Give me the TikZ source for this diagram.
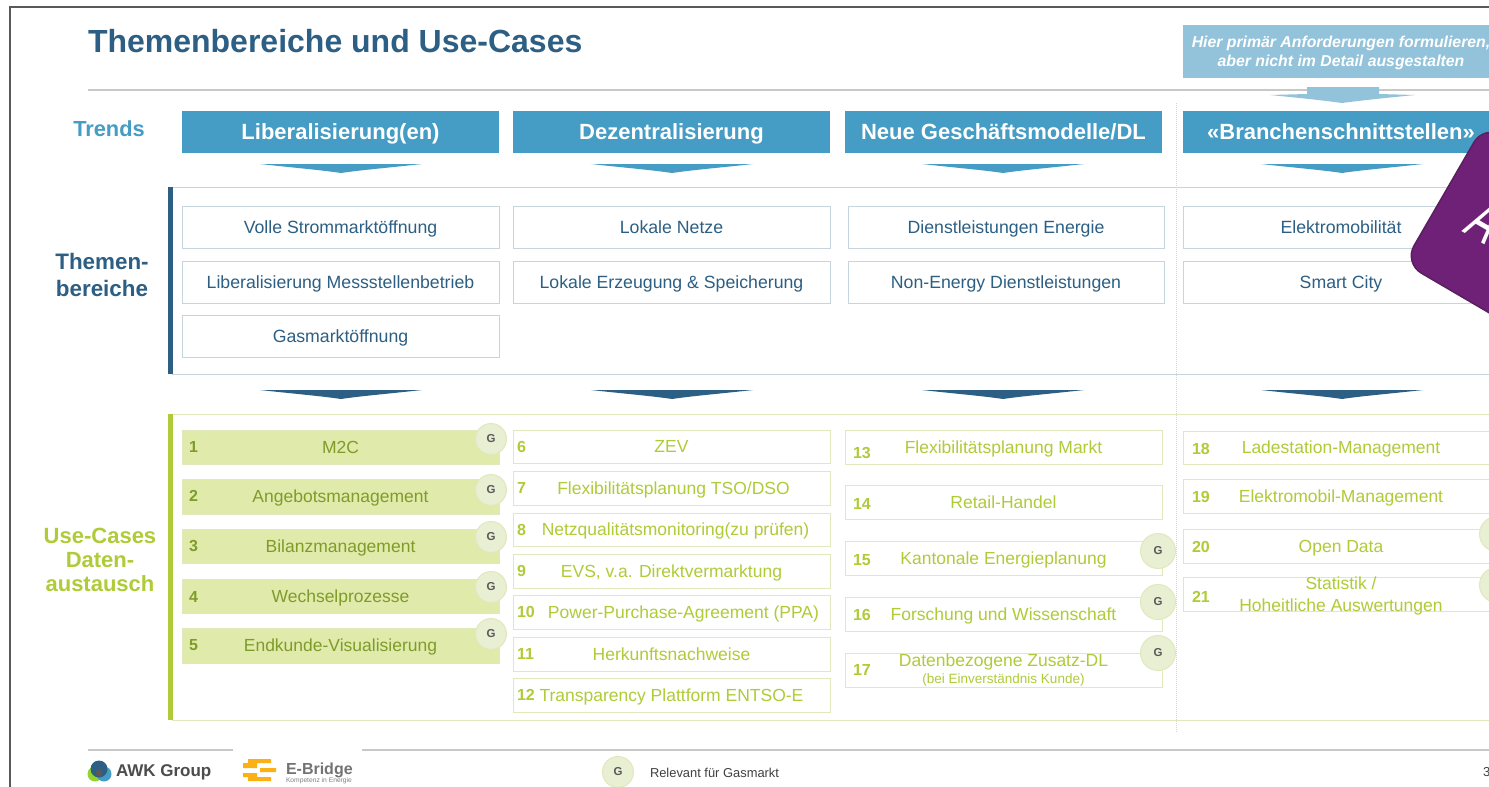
\documentclass[tikz,border=0pt]{standalone}
\usepackage{fontspec}
\setmainfont{Liberation Sans}
\definecolor{cdark}{HTML}{2C5F83}
\definecolor{cblue}{HTML}{459CC4}
\definecolor{cpale}{HTML}{92C3DB}
\definecolor{cthem}{HTML}{C6D5DE}
\definecolor{cgreen}{HTML}{AFCB37}
\definecolor{cfill}{HTML}{E0EAAB}
\definecolor{cline}{HTML}{E0E9BD}
\definecolor{cgtxt}{HTML}{7F9C2A}
\definecolor{ccirc}{HTML}{E9EFD2}
\definecolor{crule}{HTML}{C8C8C8}
\definecolor{cpurple}{HTML}{6F2077}
\definecolor{cpurpd}{HTML}{5A1F5F}
\definecolor{corange}{HTML}{FBB116}
\newcommand\fs[1]{\fontsize{#1}{#1}\selectfont}
\tikzset{
 x=1pt,y=-1pt,inner sep=0pt,outer sep=0pt,
 trend/.style={fill=cblue,text=white,font=\fs{22}\bfseries,text height=15.8pt,text depth=-3.6pt},
 thembox/.style={draw=cthem,line width=1pt,fill=white,text=cdark,font=\fs{17.7},text height=12.7pt,text depth=0pt},
 ucmulti/.style={draw=cline,line width=1pt,fill=white,text=cgreen,font=\fs{17.5},align=center},
 ucbox/.style={ucmulti,text height=12.5pt,text depth=0pt},
 ucfill/.style={draw=cline,line width=.6pt,fill=cfill,text=cgtxt,font=\fs{17.5},text height=12.5pt,text depth=0pt},
 ucnum/.style={font=\fs{16}\bfseries,anchor=west},
 gmark/.style={circle,draw=cline,line width=1pt,fill=ccirc,text=black!65,font=\fs{11.5}\bfseries},
 seclabel/.style={font=\fs{22}\bfseries,align=center},
}
\newcommand\bx[7][]{\node[#2,#1,minimum width={(#5-#3)*1pt},minimum height={(#6-#4)*1pt}] (#7) at ({(#3+#5)/2},{(#4+#6)/2})}
\newcommand\dnarrow[4]{\fill[#1] (#2-81,#3) -- (#2+81,#3) .. controls (#2+45,#3+4) and (#2+20,#3+6) .. (#2,#4) .. controls (#2-20,#3+6) and (#2-45,#3+4) .. (#2-81,#3) -- cycle;}
\newcommand\gm[4]{\node[gmark,minimum size=#3*2pt] (#4) at (#1,#2) {G};}
\begin{document}
\begin{tikzpicture}
\useasboundingbox (0,0) rectangle (1489,787);
\clip (0,0) rectangle (1489,787);
\fill[white] (0,0) rectangle (1489,787);
% frame
\draw[black!65,line width=2pt] (10,790) -- (10,6.5) -- (1495,6.5);
% title
\node[anchor=base west,text=cdark,font=\fs{32}\bfseries] (title) at (88,52.5) {Themenbereiche und Use-Cases};
\draw[crule,line width=1.2pt] (88,90) -- (1489,90);
% hint
\bx[text depth=0pt]{fill=cpale,text=white,font=\fs{15.8}\bfseries\itshape,align=center}{1183}{25}{1499}{78}{hint}{Hier primär Anforderungen formulieren,\\[3pt]aber nicht im Detail ausgestalten};
\fill[cpale] (1307,87) -- (1379,87) -- (1379,94) -- (1415,95) .. controls (1385,98) and (1365,100) .. (1342,103) .. controls (1320,100) and (1300,98) .. (1270,95) -- (1307,94) -- cycle;
% vertical divider
\draw[cblue!35,line width=1pt,densely dotted] (1176,103) -- (1176,733);
% trends
\node[text=cblue,font=\fs{21.8}\bfseries] (ltrend) at (109,129) {Trends};
\bx{trend}{182}{111}{499}{153}{t1}{Liberalisierung(en)};
\bx{trend}{513}{111}{830}{153}{t2}{Dezentralisierung};
\bx{trend}{845}{111}{1162}{153}{t3}{Neue Geschäftsmodelle/DL};
\bx{trend}{1183}{111}{1499}{153}{t4}{«Branchenschnittstellen»};
\dnarrow{cblue}{341}{164}{173}
\dnarrow{cblue}{672}{164}{173}
\dnarrow{cblue}{1003}{164}{173}
\dnarrow{cblue}{1342}{164}{173}
% Themenbereiche section
\draw[cthem,line width=1pt] (172,187) -- (1495,187) (172,374) -- (1495,374);
\fill[cdark] (168,187) rectangle (172.5,374);
\node[seclabel,text=cdark,font=\fs{22.4}\bfseries] (lthem) at (102,275) {Themen-\\[5pt]bereiche};
\bx{thembox}{182}{206}{499}{248}{a1}{Volle Strommarktöffnung};
\bx{thembox}{182}{261}{499}{303}{a2}{Liberalisierung Messstellenbetrieb};
\bx{thembox}{182}{315}{499}{357}{a3}{Gasmarktöffnung};
\bx{thembox}{513}{206}{830}{248}{b1}{Lokale Netze};
\bx{thembox}{513}{261}{830}{303}{b2}{Lokale Erzeugung \& Speicherung};
\bx{thembox}{848}{206}{1164}{248}{c1}{Dienstleistungen Energie};
\bx{thembox}{848}{261}{1164}{303}{c2}{Non-Energy Dienstleistungen};
\bx{thembox}{1183}{206}{1499}{248}{d1}{Elektromobilität};
\bx{thembox}{1183}{261}{1499}{303}{d2}{Smart City};
\dnarrow{cdark}{341}{390}{399}
\dnarrow{cdark}{672}{390}{399}
\dnarrow{cdark}{1003}{390}{399}
\dnarrow{cdark}{1342}{390}{399}
% Use-cases section
\draw[cline,line width=1pt] (172,414) -- (1495,414) (172,720) -- (1495,720);
\fill[cgreen] (168,414) rectangle (173,720);
\node[seclabel,text=cgreen] (luc) at (100,560) {Use-Cases\\[2pt]Daten-\\[2pt]austausch};
% column 1
\bx{ucfill}{182}{430}{499}{464}{u1}{M2C};
\bx{ucfill}{182}{479}{499}{514}{u2}{Angebotsmanagement};
\bx{ucfill}{182}{529}{499}{563}{u3}{Bilanzmanagement};
\bx{ucfill}{182}{579}{499}{613}{u4}{Wechselprozesse};
\bx{ucfill}{182}{628}{499}{663}{u5}{Endkunde-Visualisierung};
\node[ucnum,text=cgtxt] (n1) at (189,447) {1};
\node[ucnum,text=cgtxt] (n2) at (189,496) {2};
\node[ucnum,text=cgtxt] (n3) at (189,546) {3};
\node[ucnum,text=cgtxt] (n4) at (189,597) {4};
\node[ucnum,text=cgtxt] (n5) at (189,645) {5};
\gm{491}{439}{15.5}{g1}
\gm{491}{490}{15.5}{g2}
\gm{491}{537}{15.5}{g3}
\gm{491}{587}{15.5}{g4}
\gm{491}{634}{15.5}{g5}
% column 2
\bx{ucbox}{513}{430}{830}{463}{u6}{ZEV};
\bx{ucbox}{513}{471}{830}{505}{u7}{\hspace{4pt}Flexibilitätsplanung TSO/DSO};
\bx{ucbox}{513}{513}{830}{546}{u8}{\hspace{8pt}Netzqualitätsmonitoring(zu prüfen)};
\bx{ucbox}{513}{554}{830}{588}{u9}{EVS, v.a. Direktvermarktung};
\bx{ucbox}{513}{595}{830}{629}{u10}{\hspace{24pt}Power-Purchase-Agreement (PPA)};
\bx{ucbox}{513}{637}{830}{671}{u11}{Herkunftsnachweise};
\bx{ucbox}{513}{678}{830}{712}{u12}{Transparency Plattform ENTSO-E};
\node[ucnum,text=cgreen] (n6) at (517,447) {6};
\node[ucnum,text=cgreen] (n7) at (517,488) {7};
\node[ucnum,text=cgreen] (n8) at (517,530) {8};
\node[ucnum,text=cgreen] (n9) at (517,571) {9};
\node[ucnum,text=cgreen] (n10) at (517,612) {10};
\node[ucnum,text=cgreen] (n11) at (517,654) {11};
\node[ucnum,text=cgreen] (n12) at (517,695) {12};
% column 3
\bx{ucbox}{845}{430}{1162}{464}{u13}{Flexibilitätsplanung Markt};
\bx{ucbox}{845}{485}{1162}{519}{u14}{Retail-Handel};
\bx{ucbox}{845}{541}{1162}{575}{u15}{Kantonale Energieplanung};
\bx{ucbox}{845}{597}{1162}{631}{u16}{Forschung und Wissenschaft};
\bx{ucmulti}{845}{653}{1162}{687}{u17}{Datenbezogene Zusatz-DL\\[-1pt]{\fs{13.5}(bei Einverständnis Kunde)}};
\node[ucnum,text=cgreen] (n13) at (853,453) {13};
\node[ucnum,text=cgreen] (n14) at (853,504) {14};
\node[ucnum,text=cgreen] (n15) at (853,560) {15};
\node[ucnum,text=cgreen] (n16) at (853,615) {16};
\node[ucnum,text=cgreen] (n17) at (853,670) {17};
\gm{1158}{551}{17.5}{g15}
\gm{1158}{602}{17.5}{g16}
\gm{1158}{653}{17.5}{g17}
% column 4
\bx{ucbox}{1183}{431}{1499}{464}{u18}{Ladestation-Management};
\bx{ucbox}{1183}{479}{1499}{513}{u19}{Elektromobil-Management};
\bx{ucbox}{1183}{529}{1499}{563}{u20}{Open Data};
\bx[inner ysep=-5pt,text depth=0pt]{ucmulti}{1183}{577}{1499}{611}{u21}{Statistik /\\[4pt]Hoheitliche Auswertungen};
\node[ucnum,text=cgreen] (n18) at (1192,449) {18};
\node[ucnum,text=cgreen] (n19) at (1192,497) {19};
\node[ucnum,text=cgreen] (n20) at (1192,547) {20};
\node[ucnum,text=cgreen] (n21) at (1192,597) {21};
\gm{1497}{534}{17.5}{g20}
\gm{1497}{585}{17.5}{g21}
% purple flag
\draw[cpurpd,line width=1.5pt,fill=cpurple,rounded corners=20pt] (1484,125) -- (1684,240) -- (1604,380) -- (1404,263) -- cycle;
\node[text=white,font=\fs{67}\itshape,rotate=-30,xscale=.6] (stamp) at (1487,219) {A};
% footer
\draw[crule,line width=1.2pt] (88,750) -- (233,750) (362,750) -- (1489,750);
\fill[cgreen!85!green] (95,774) circle (7.5);
\fill[cblue] (104,774) circle (7.5);
\fill[cdark] (99,769) circle (8.5);
\fill[black!65] (99,773) circle (3.5);
\node[anchor=west,text=black!70,font=\fs{17}\bfseries] (awk) at (116,772) {AWK Group};
\fill[corange] (248,759) rectangle (271,763) (243,763) rectangle (257,768)
 (260,768) rectangle (276,772) (243,773) rectangle (257,777) (248,777) rectangle (271,781);
\node[anchor=west,text=black!55,font=\fs{16}\bfseries] (ebr) at (286,770) {E-Bridge};
\node[anchor=west,text=black!50,font=\fs{6.7}] (ebs) at (286,780.5) {Kompetenz in Energie};
\gm{618}{772}{15.5}{gl}
\node[anchor=west,text=black!75,font=\fs{12.9}] (lg) at (650,772.5) {Relevant für Gasmarkt};
\node[anchor=west,text=black!75,font=\fs{13}] (pg) at (1483,772) {3};
\end{tikzpicture}
\end{document}
